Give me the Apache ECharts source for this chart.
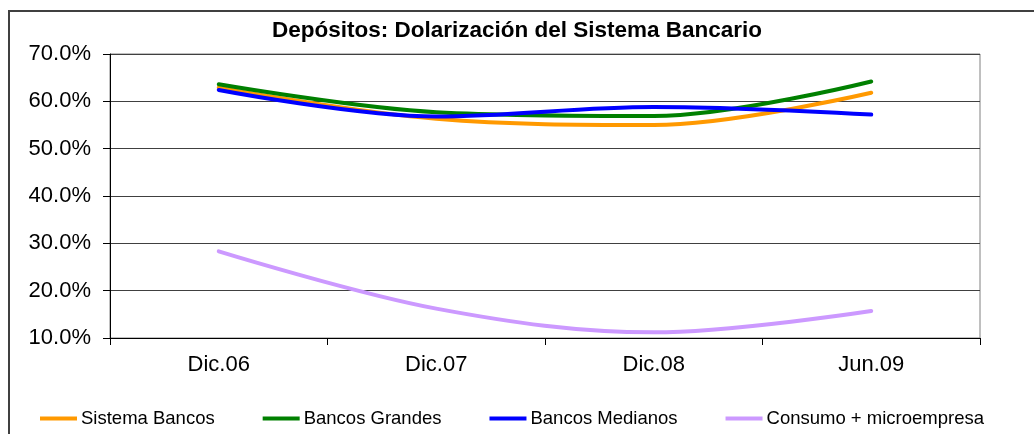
<!DOCTYPE html>
<html>
<head>
<meta charset="utf-8">
<script src="https://cdn.jsdelivr.net/npm/echarts@6/dist/echarts.min.js"></script>
<style>
  html, body { margin: 0; padding: 0; background: #fff; }
  #chart { width: 1034px; height: 434px; }
</style>
</head>
<body>
<div id="chart"></div>
<script>
var periodos = ['Dic.06', 'Dic.07', 'Dic.08', 'Jun.09'];
var sistemaBancos = [62.9, 56.3, 55.0, 61.8];
var bancosGrandes = [63.6, 57.7, 56.9, 64.2];
var bancosMedianos = [62.4, 56.8, 58.8, 57.2];
var consumoMicro = [28.3, 16.2, 11.2, 15.7];
var ejeY = { min: 10, max: 70, paso: 10 };

var myChart = echarts.init(document.getElementById('chart'));
var fuente = 'Liberation Sans, Arial, sans-serif';

function serie(nombre, datos, color) {
    return {
        name: nombre,
        type: 'line',
        data: datos,
        smooth: 0.35,
        symbol: 'none',
        lineStyle: { color: color, width: 4, cap: 'round' },
        itemStyle: { color: color }
    };
}

var option = {
    animation: false,
    textStyle: { fontFamily: fuente },
    graphic: [{
        type: 'rect',
        shape: { x: 9, y: 11, width: 1200, height: 600 },
        style: { fill: 'none', stroke: '#404040', lineWidth: 2 },
        silent: true
    }],
    title: {
        text: 'Depósitos: Dolarización del Sistema Bancario',
        left: 'center',
        top: 14,
        textStyle: { fontFamily: fuente, fontSize: 22.5, fontWeight: 'bold', color: '#000' }
    },
    legend: {
        bottom: 6,
        left: 40,
        padding: 0,
        itemWidth: 37,
        itemHeight: 4,
        itemGap: 48,
        icon: 'rect',
        textStyle: { fontFamily: fuente, fontSize: 18.5, color: '#000', padding: [0, 0, 0, -1] },
        data: ['Sistema Bancos', 'Bancos Grandes', 'Bancos Medianos', 'Consumo + microempresa']
    },
    grid: {
        left: 110,
        right: 54,
        top: 54,
        bottom: 96,
        show: true,
        borderColor: '#808080',
        borderWidth: 1
    },
    xAxis: {
        type: 'category',
        boundaryGap: true,
        data: periodos,
        axisLine: { lineStyle: { color: '#000', width: 1 } },
        axisTick: { show: true, length: 7, lineStyle: { color: '#000' } },
        axisLabel: { fontFamily: fuente, fontSize: 22, color: '#000', margin: 16 }
    },
    yAxis: {
        type: 'value',
        min: ejeY.min,
        max: ejeY.max,
        interval: ejeY.paso,
        axisLine: { show: true, lineStyle: { color: '#000', width: 1 } },
        axisTick: { show: true, length: 7, lineStyle: { color: '#000' } },
        splitLine: { lineStyle: { color: '#404040', width: 1 } },
        axisLabel: {
            fontFamily: fuente, fontSize: 22, color: '#000', margin: 19,
            formatter: function (v) { return v.toFixed(1) + '%'; }
        }
    },
    series: [
        serie('Sistema Bancos', sistemaBancos, '#FF9900'),
        serie('Bancos Grandes', bancosGrandes, '#008000'),
        serie('Bancos Medianos', bancosMedianos, '#0000FF'),
        serie('Consumo + microempresa', consumoMicro, '#CC99FF')
    ]
};
myChart.setOption(option);
</script>
</body>
</html>
